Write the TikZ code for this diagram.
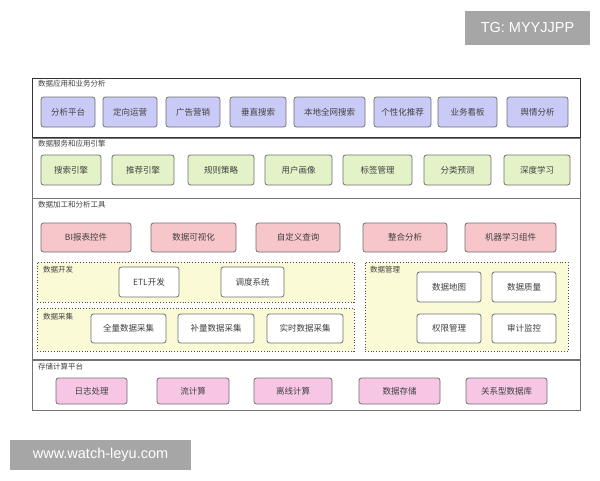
\documentclass[tikz,border=0pt]{standalone}
\usepackage{fontspec}
\setmainfont{Liberation Sans}
\newfontfamily\cjk{Noto Sans CJK SC}
\definecolor{pur}{HTML}{CACAF6}
\definecolor{grn}{HTML}{E4F2C8}
\definecolor{pnk}{HTML}{F7C6CA}
\definecolor{mag}{HTML}{F6C6E4}
\definecolor{ylw}{HTML}{FAFAD6}
\definecolor{bdr}{HTML}{707070}
\definecolor{wm}{HTML}{A6A6A6}
\newcommand\bx[7]{\node[#2, minimum width={(#5-#3)*1pt}, minimum height={(#6-#4)*1pt}] (#1) at ({(#3+#5)/2},{(#4+#6)/2}) {#7};}
\tikzset{
  base/.style={draw=bdr, line width=0.8pt, rounded corners=2.5pt, inner sep=0pt, outer sep=0pt, font=\cjk\fontsize{8.5}{9}\selectfont, text=black!75},
  b1/.style={base, fill=pur},
  b2/.style={base, fill=grn},
  b3/.style={base, fill=pnk},
  b4/.style={base, fill=white},
  b5/.style={base, fill=mag},
  sec/.style={draw=black!55, line width=0.8pt, inner sep=0pt, outer sep=0pt, fill=white},
  sec1/.style={draw=black!80, line width=1pt, inner sep=0pt, outer sep=0pt, fill=white},
  grp/.style={draw=black!70, dotted, line width=0.8pt, fill=ylw, inner sep=0pt, outer sep=0pt},
  lbl/.style={anchor=north west, inner sep=0pt, font=\cjk\fontsize{7.5}{8}\selectfont, text=black!75},
  wmk/.style={fill=wm, text=white, inner sep=0pt, outer sep=0pt, font=\fontsize{14.5}{16}\selectfont}
}
\begin{document}
\begin{tikzpicture}[x=1pt, y=-1pt]
\useasboundingbox (0,0) rectangle (600,480);
\fill[white] (0,0) rectangle (600,480);
% sections
\bx{s1}{sec1}{32}{78}{580}{137}{}
\bx{s2}{sec}{32}{138}{580}{198}{}
\bx{s3}{sec}{32}{198}{580}{359}{}
\bx{s4}{sec}{32}{360}{580}{410}{}
\node[lbl] (l1) at (38,80) {数据应用和业务分析};
\node[lbl] (l2) at (38,140) {数据服务和应用引擎};
\node[lbl] (l3) at (38,201) {数据加工和分析工具};
\node[lbl] (l4) at (38,363) {存储计算平台};
% row 1
\bx{a1}{b1}{41}{97}{95}{127}{分析平台}
\bx{a2}{b1}{103}{97}{157}{127}{定向运营}
\bx{a3}{b1}{166}{97}{220}{127}{广告营销}
\bx{a4}{b1}{230}{97}{286}{127}{垂直搜索}
\bx{a5}{b1}{294}{97}{365}{127}{本地全网搜索}
\bx{a6}{b1}{374}{97}{431}{127}{个性化推荐}
\bx{a7}{b1}{438}{97}{497}{127}{业务看板}
\bx{a8}{b1}{507}{97}{568}{127}{舆情分析}
% row 2
\bx{c1}{b2}{41}{155}{101}{185}{搜索引擎}
\bx{c2}{b2}{112}{155}{174}{185}{推荐引擎}
\bx{c3}{b2}{188}{155}{254}{185}{规则策略}
\bx{c4}{b2}{265}{155}{332}{185}{用户画像}
\bx{c5}{b2}{343}{155}{412}{185}{标签管理}
\bx{c6}{b2}{424}{155}{491}{185}{分类预测}
\bx{c7}{b2}{504}{155}{570}{185}{深度学习}
% row 3
\bx{d1}{b3}{41}{223}{131}{252}{BI报表控件}
\bx{d2}{b3}{151}{223}{236}{252}{数据可视化}
\bx{d3}{b3}{256}{223}{340}{252}{自定义查询}
\bx{d4}{b3}{363}{223}{447}{252}{整合分析}
\bx{d5}{b3}{465}{223}{556}{252}{机器学习组件}
% groups
\bx{g1}{grp}{37}{262}{354}{302}{}
\bx{g2}{grp}{37}{308}{354}{351}{}
\bx{g3}{grp}{365}{262}{568}{351}{}
\node[lbl] (lg1) at (43,266) {数据开发};
\node[lbl] (lg2) at (43,313) {数据采集};
\node[lbl] (lg3) at (370,266) {数据管理};
\bx{e1}{b4}{119}{267}{179}{297}{ETL开发}
\bx{e2}{b4}{221}{267}{284}{297}{调度系统}
\bx{f1}{b4}{91}{314}{166}{343}{全量数据采集}
\bx{f2}{b4}{178}{314}{254}{343}{补量数据采集}
\bx{f3}{b4}{267}{314}{343}{343}{实时数据采集}
\bx{h1}{b4}{417}{272}{481}{302}{数据地图}
\bx{h2}{b4}{492}{272}{556}{302}{数据质量}
\bx{h3}{b4}{417}{314}{481}{343}{权限管理}
\bx{h4}{b4}{492}{314}{556}{343}{审计监控}
% row 5
\bx{k1}{b5}{56}{378}{127}{404}{日志处理}
\bx{k2}{b5}{157}{378}{229}{404}{流计算}
\bx{k3}{b5}{254}{378}{332}{404}{离线计算}
\bx{k4}{b5}{359}{378}{440}{404}{数据存储}
\bx{k5}{b5}{466}{378}{547}{404}{关系型数据库}
% watermarks
\bx{w1}{wmk}{465}{11}{590}{45}{TG: MYYJJPP}
\bx{w2}{wmk}{10}{440}{191}{470}{www.watch-leyu.com}
\end{tikzpicture}
\end{document}
